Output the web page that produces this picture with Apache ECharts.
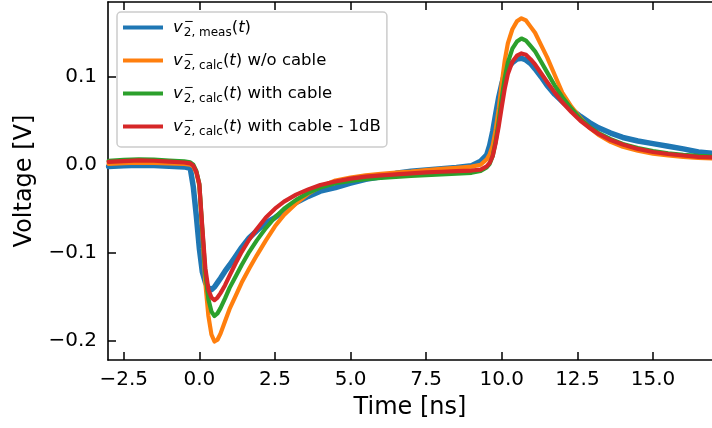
<!DOCTYPE html>
<html>
<head>
<meta charset="utf-8">
<script src="https://cdn.jsdelivr.net/npm/echarts@6/dist/echarts.min.js"></script>
<style>html,body{margin:0;padding:0;background:#fff}#c{width:712px;height:428px}</style>
</head>
<body>
<div id="c"></div>
<script>
// time grid [ns]
const timeNs = [-3.0,-2.5,-2.0,-1.5,-1.0,-0.5,-0.3,-0.2,-0.1,0.0,0.1,0.2,0.3,0.4,0.5,0.6,0.7,0.85,1.0,1.2,1.4,1.65,1.9,2.2,2.5,2.8,3.2,3.6,4.0,4.5,5.0,5.5,6.0,6.5,7.0,7.5,8.0,8.5,9.0,9.3,9.5,9.6,9.7,9.8,9.9,10.0,10.1,10.2,10.35,10.5,10.65,10.8,10.95,11.1,11.3,11.5,11.75,12.0,12.3,12.6,12.9,13.2,13.6,14.0,14.5,15.0,15.5,16.0,16.5,17.0];
// v2,meas
const vMeas = [-0.002,-0.0012,-0.0005,-0.001,-0.0018,-0.0025,-0.004,-0.025,-0.058,-0.095,-0.122,-0.134,-0.140,-0.142,-0.139,-0.134,-0.129,-0.121,-0.114,-0.104,-0.094,-0.083,-0.075,-0.066,-0.060,-0.053,-0.043,-0.036,-0.030,-0.026,-0.021,-0.0166,-0.0136,-0.0098,-0.0075,-0.006,-0.0045,-0.003,-0.001,0.004,0.011,0.022,0.038,0.058,0.077,0.092,0.104,0.111,0.116,0.120,0.121,0.119,0.115,0.109,0.100,0.090,0.080,0.072,0.063,0.055,0.048,0.042,0.036,0.031,0.027,0.024,0.021,0.018,0.0145,0.013];
// v2,calc w/o cable
const vCalcNoCable = [0.001,0.0018,0.0025,0.0022,0.0015,0.0008,0.0,-0.002,-0.009,-0.024,-0.078,-0.135,-0.172,-0.193,-0.201,-0.199,-0.192,-0.178,-0.164,-0.149,-0.134,-0.118,-0.103,-0.086,-0.070,-0.057,-0.044,-0.033,-0.025,-0.018,-0.0145,-0.012,-0.0105,-0.009,-0.0078,-0.0062,-0.0048,-0.0035,-0.0022,0.0,0.006,0.012,0.022,0.040,0.064,0.093,0.119,0.138,0.154,0.163,0.1665,0.164,0.157,0.150,0.136,0.122,0.102,0.082,0.066,0.053,0.042,0.034,0.026,0.0205,0.016,0.0125,0.0105,0.009,0.0078,0.007];
// v2,calc with cable
const vCalcCable = [0.0045,0.0055,0.0062,0.0057,0.0048,0.0038,0.0028,0.0,-0.007,-0.022,-0.074,-0.124,-0.153,-0.167,-0.172,-0.169,-0.163,-0.152,-0.140,-0.127,-0.114,-0.099,-0.086,-0.072,-0.060,-0.050,-0.040,-0.032,-0.026,-0.021,-0.0183,-0.0165,-0.015,-0.0138,-0.0128,-0.0118,-0.011,-0.0102,-0.0092,-0.007,-0.003,0.001,0.010,0.027,0.050,0.076,0.099,0.116,0.132,0.140,0.1435,0.141,0.135,0.129,0.117,0.105,0.090,0.077,0.064,0.052,0.043,0.036,0.029,0.0235,0.019,0.0155,0.013,0.0113,0.010,0.0092];
// v2,calc with cable - 1dB
const vCalcCable1dB = [0.0033,0.0042,0.005,0.0045,0.0035,0.0025,0.0015,-0.001,-0.008,-0.022,-0.072,-0.118,-0.142,-0.151,-0.154,-0.151,-0.146,-0.137,-0.126,-0.112,-0.099,-0.085,-0.073,-0.060,-0.050,-0.042,-0.034,-0.028,-0.023,-0.019,-0.0158,-0.0135,-0.0122,-0.011,-0.0098,-0.0088,-0.008,-0.0073,-0.0066,-0.0055,-0.002,0.002,0.010,0.025,0.044,0.066,0.087,0.103,0.117,0.124,0.1265,0.125,0.120,0.114,0.104,0.094,0.082,0.071,0.060,0.050,0.042,0.035,0.028,0.023,0.018,0.0145,0.0122,0.0105,0.009,0.0082];

const xTicks = [-2.5,0,2.5,5,7.5,10,12.5,15];
const xTickLabels = ['\u22122.5','0.0','2.5','5.0','7.5','10.0','12.5','15.0'];
const yTicks = [-0.2,-0.1,0,0.1];
const yTickLabels = ['\u22120.2','\u22120.1','0.0','0.1'];

const seriesNames = ['v2,meas(t)','v2,calc(t) w/o cable','v2,calc(t) with cable','v2,calc(t) with cable - 1dB'];
const legendRich = {
  'v2,meas(t)': '{v|v}{sp|\u2212}{sb|2, meas}{m|(}{it|t}{m|)}',
  'v2,calc(t) w/o cable': '{v|v}{sp|\u2212}{sb|2, calc}{m|(}{it|t}{m|) w/o cable}',
  'v2,calc(t) with cable': '{v|v}{sp|\u2212}{sb|2, calc}{m|(}{it|t}{m|) with cable}',
  'v2,calc(t) with cable - 1dB': '{v|v}{sp|\u2212}{sb|2, calc}{m|(}{it|t}{m|) with cable - 1dB}'
};
const colors = ['#1f77b4','#ff7f0e','#2ca02c','#d62728'];
const widths = [5.5,4.2,4.2,4.2];
const valueSets = [vMeas, vCalcNoCable, vCalcCable, vCalcCable1dB];

const FF = 'DejaVu Sans';
const chart = echarts.init(document.getElementById('c'), null, {renderer:'canvas'});
const pm = 3, pb = 11, ps = 0;
const axisCommon = {
  type:'value', min:-3.02, max:16.95, splitLine:{show:false},
  axisLine:{show:true, onZero:false, lineStyle:{color:'#000', width:1.6}},
  axisTick:{show:true, inside:true, length:8, customValues:xTicks, lineStyle:{color:'#000', width:1.5}}
};
chart.setOption({
  animation:false,
  color: colors,
  grid:{left:108, top:2, right:-8, bottom:68},
  xAxis:[
    Object.assign({}, axisCommon, {
      position:'bottom',
      axisLabel:{customValues:xTicks, fontFamily:FF, fontSize:20, color:'#000', margin:10,
        formatter:(v)=>{const i=xTicks.indexOf(v); return i>=0?xTickLabels[i]:'';}},
      name:'Time [ns]', nameLocation:'middle', nameGap:36,
      nameTextStyle:{fontFamily:FF, fontSize:24, color:'#000'}
    }),
    Object.assign({}, axisCommon, {position:'top', axisLabel:{show:false}})
  ],
  yAxis:[{
    type:'value', min:-0.222, max:0.185, splitLine:{show:false},
    axisLine:{show:true, onZero:false, lineStyle:{color:'#000', width:1.6}},
    axisTick:{show:true, inside:true, length:8, customValues:yTicks, lineStyle:{color:'#000', width:1.5}},
    axisLabel:{customValues:yTicks, fontFamily:FF, fontSize:20, color:'#000', margin:11,
      formatter:(v)=>{let i=-1; yTicks.forEach((t,k)=>{if(Math.abs(t-v)<1e-9)i=k;}); return i>=0?yTickLabels[i]:'';}},
    name:'Voltage [V]', nameLocation:'middle', nameGap:71,
    nameTextStyle:{fontFamily:FF, fontSize:24, color:'#000'}
  }],
  legend:{
    show:true, orient:'vertical', left:117, top:12,
    data: seriesNames, icon:'rect', itemWidth:40, itemHeight:4, itemGap:10,
    padding:[4,6,9,6],
    backgroundColor:'rgba(255,255,255,0.8)', borderColor:'#cccccc', borderWidth:1.5, borderRadius:4,
    formatter:(name)=>legendRich[name],
    textStyle:{fontFamily:FF, color:'#000', fontSize:16.5,
      rich:{
        v:{fontFamily:FF, fontSize:16.5, fontStyle:'italic', verticalAlign:'top', padding:[pm,0,0,5], color:'#000'},
        sp:{fontFamily:FF, fontSize:12, verticalAlign:'top', padding:[ps,0,0,1], width:0.01, color:'#000'},
        sb:{fontFamily:FF, fontSize:12, verticalAlign:'top', padding:[pb,0,0,0], color:'#000'},
        m:{fontFamily:FF, fontSize:16.5, verticalAlign:'top', padding:[pm,0,0,0], color:'#000'},
        it:{fontFamily:FF, fontSize:16.5, fontStyle:'italic', verticalAlign:'top', padding:[pm,0,0,0], color:'#000'}
      }
    }
  },
  series: seriesNames.map((n,k)=>({
    name:n, type:'line', xAxisIndex:0, yAxisIndex:0, showSymbol:false, symbol:'none',
    data: timeNs.map((t,i)=>[t, valueSets[k][i]]),
    lineStyle:{color:colors[k], width:widths[k], join:'round', cap:'round'},
    itemStyle:{color:colors[k]},
    z:2+k, clip:true
  }))
});
</script>
</body>
</html>
